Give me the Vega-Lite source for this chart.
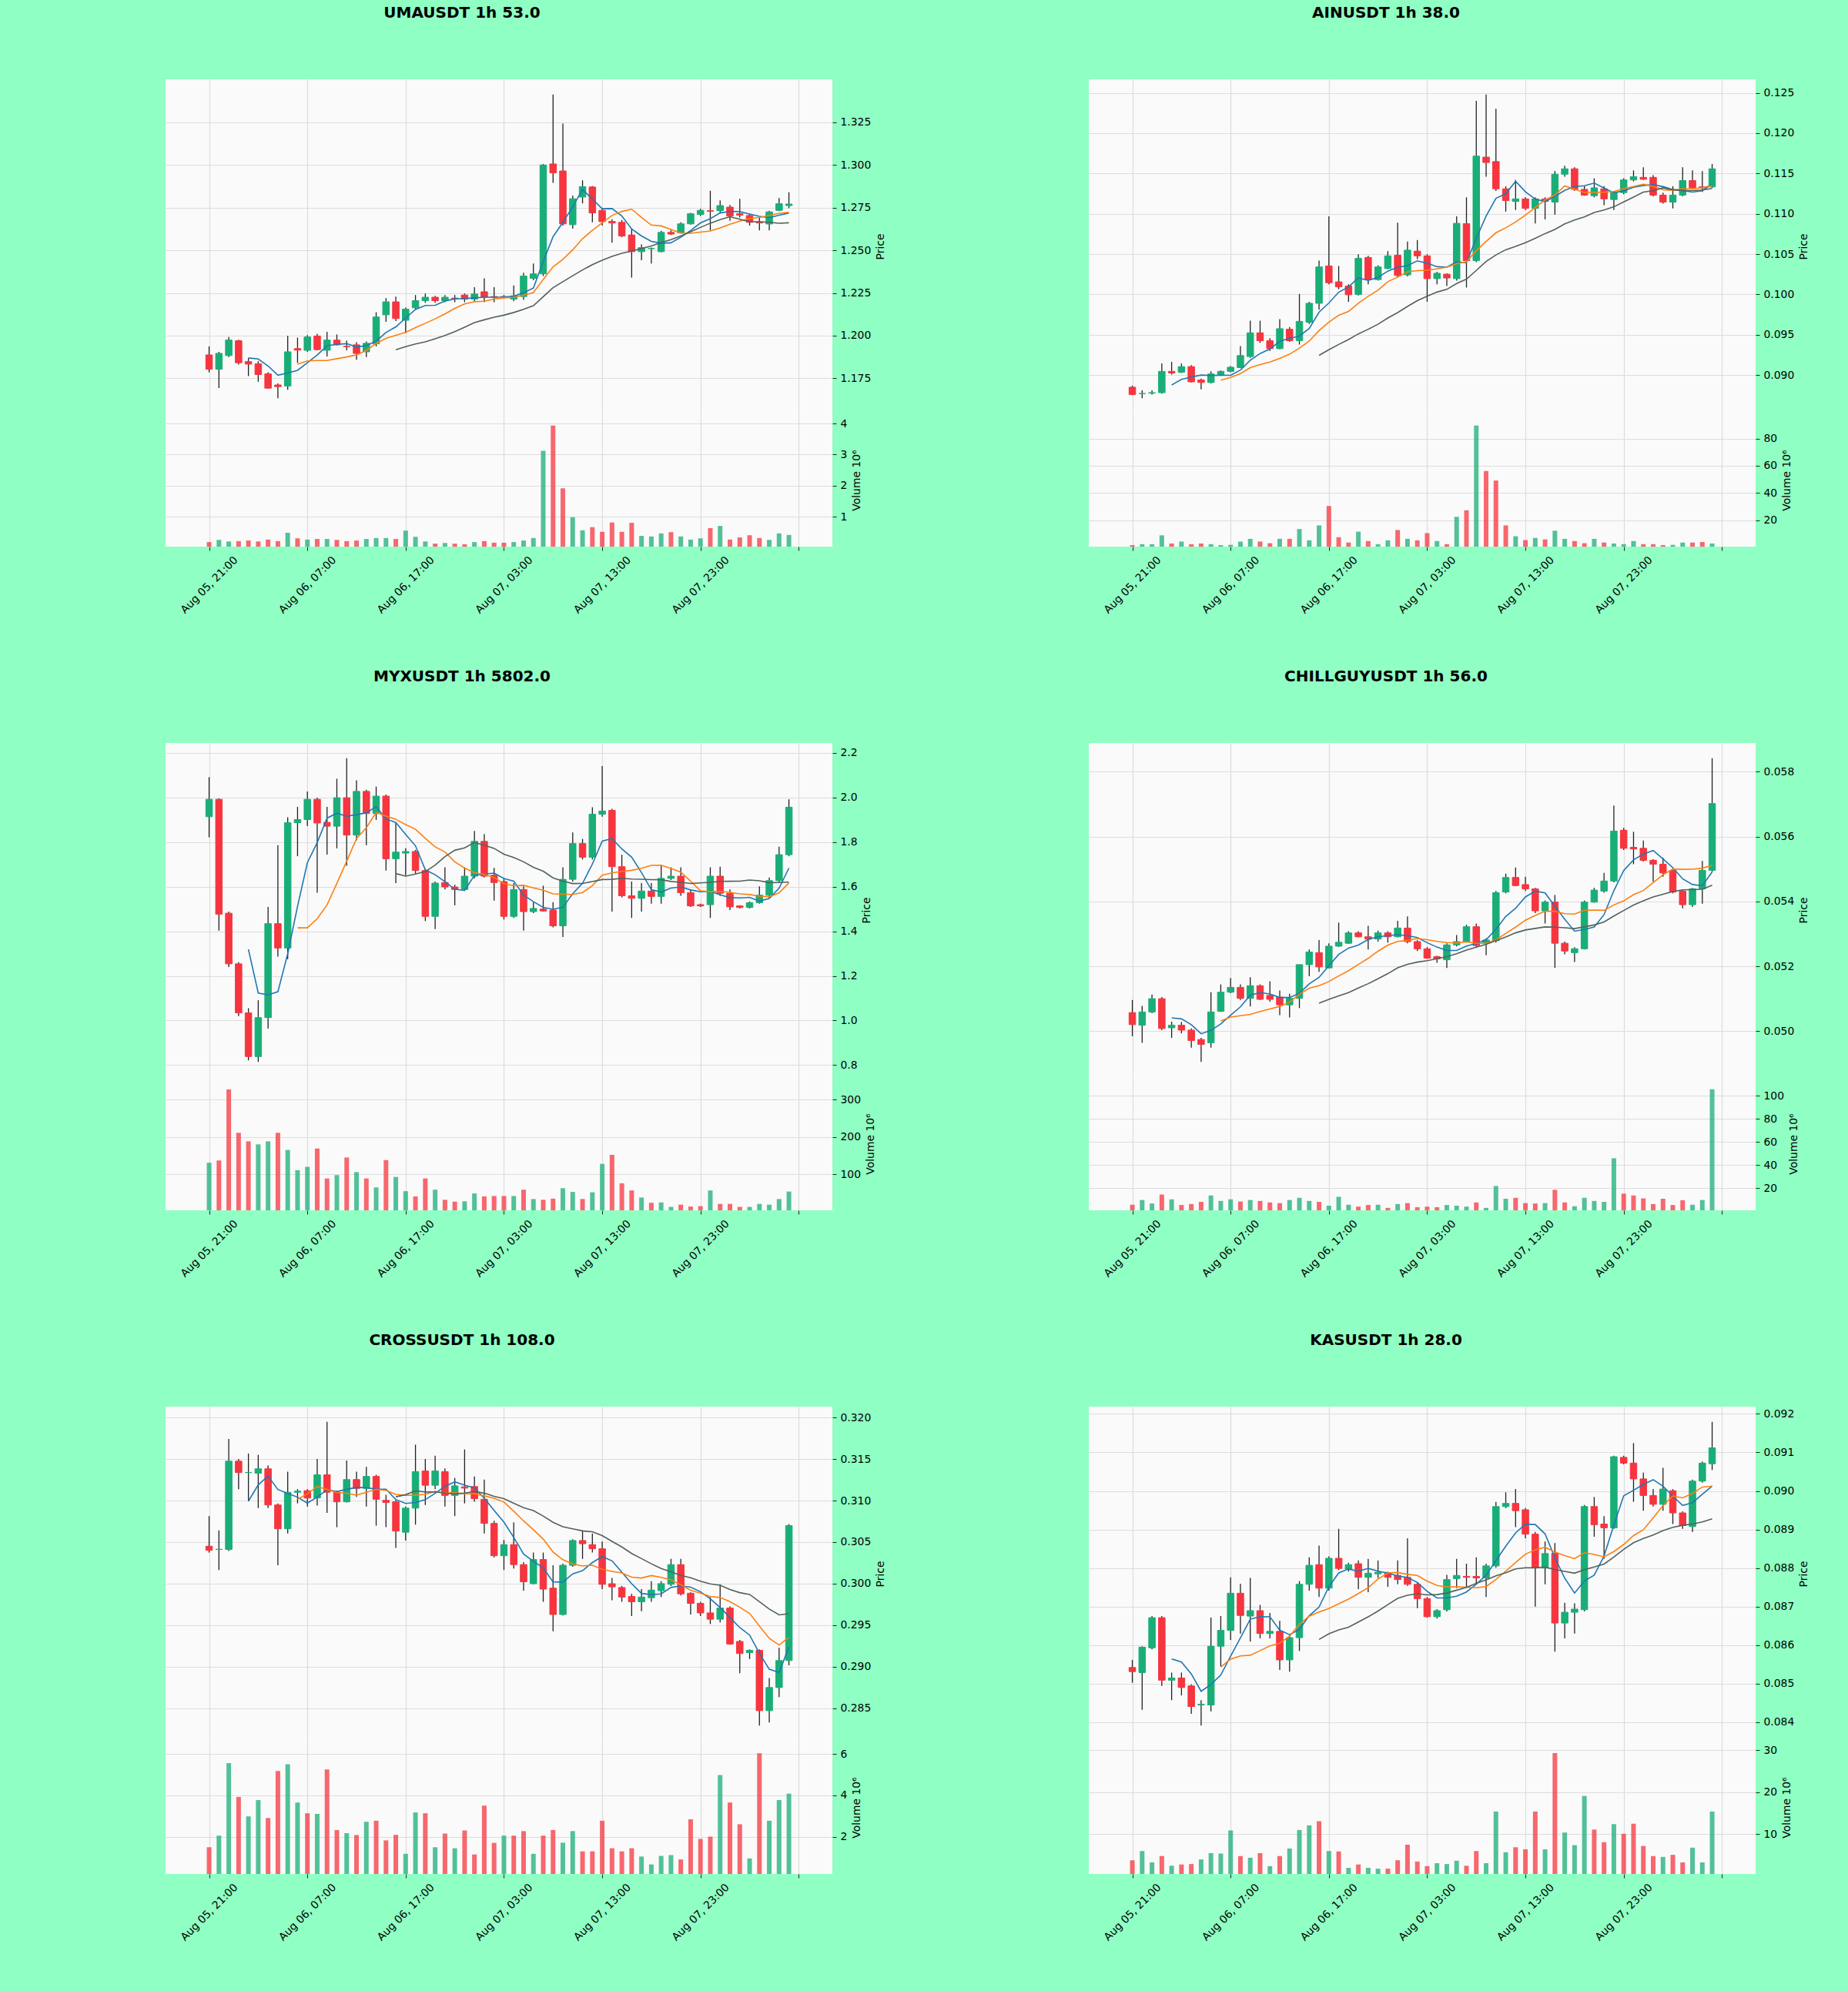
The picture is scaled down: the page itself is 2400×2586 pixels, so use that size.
{
  "$schema": "https://vega.github.io/schema/vega-lite/v6.json",
  "background": "#8fffc3",
  "padding": {"left": 215, "top": 7, "right": 80, "bottom": 90},
  "config": {
    "view": {"fill": "#fafafa", "stroke": null},
    "font": "DejaVu Sans",
    "axis": {
      "labelFont": "DejaVu Sans", "labelFontSize": 13.9, "labelColor": "#000000",
      "titleFont": "DejaVu Sans", "titleFontSize": 13.9, "titleFontWeight": "normal", "titleColor": "#000000",
      "gridColor": "#dddddd", "gridWidth": 1.2, "tickColor": "#222222", "tickSize": 5, "domain": false
    },
    "axisRight": {"labelPadding": 5, "titlePadding": 5.6, "titleAngle": 270, "titleBaseline": "top"}
  },
  "datasets": {
    "uma": [
      {"i":0,"o":1.1887,"h":1.1937,"l":1.1785,"c":1.1803,"v":0.18},
      {"i":1,"o":1.1803,"h":1.1905,"l":1.1693,"c":1.1896,"v":0.25},
      {"i":2,"o":1.1883,"h":1.1992,"l":1.1874,"c":1.1974,"v":0.20},
      {"i":3,"o":1.1970,"h":1.1976,"l":1.1831,"c":1.1841,"v":0.21},
      {"i":4,"o":1.1848,"h":1.1868,"l":1.1763,"c":1.1833,"v":0.23},
      {"i":5,"o":1.1835,"h":1.1850,"l":1.1730,"c":1.1772,"v":0.20},
      {"i":6,"o":1.1776,"h":1.1785,"l":1.1689,"c":1.1692,"v":0.26},
      {"i":7,"o":1.1711,"h":1.1720,"l":1.1633,"c":1.1701,"v":0.21},
      {"i":8,"o":1.1705,"h":1.1998,"l":1.1683,"c":1.1905,"v":0.48},
      {"i":9,"o":1.1924,"h":1.1988,"l":1.1840,"c":1.1915,"v":0.30},
      {"i":10,"o":1.1914,"h":1.2003,"l":1.1905,"c":1.1992,"v":0.26},
      {"i":11,"o":1.1998,"h":1.2011,"l":1.1914,"c":1.1918,"v":0.28},
      {"i":12,"o":1.1914,"h":1.2022,"l":1.1878,"c":1.1974,"v":0.28},
      {"i":13,"o":1.1974,"h":1.2007,"l":1.1942,"c":1.1946,"v":0.25},
      {"i":14,"o":1.1937,"h":1.1970,"l":1.1914,"c":1.1935,"v":0.21},
      {"i":15,"o":1.1946,"h":1.1961,"l":1.1859,"c":1.1896,"v":0.23},
      {"i":16,"o":1.1905,"h":1.1966,"l":1.1874,"c":1.1955,"v":0.28},
      {"i":17,"o":1.1952,"h":1.2137,"l":1.1937,"c":1.2109,"v":0.31},
      {"i":18,"o":1.2122,"h":1.2220,"l":1.2081,"c":1.2198,"v":0.31},
      {"i":19,"o":1.2198,"h":1.2229,"l":1.2085,"c":1.2100,"v":0.28},
      {"i":20,"o":1.2090,"h":1.2164,"l":1.2016,"c":1.2155,"v":0.55},
      {"i":21,"o":1.2163,"h":1.2238,"l":1.2155,"c":1.2205,"v":0.35},
      {"i":22,"o":1.2205,"h":1.2247,"l":1.2192,"c":1.2225,"v":0.20},
      {"i":23,"o":1.2225,"h":1.2233,"l":1.2192,"c":1.2205,"v":0.13},
      {"i":24,"o":1.2205,"h":1.2238,"l":1.2196,"c":1.2225,"v":0.15},
      {"i":25,"o":1.2220,"h":1.2238,"l":1.2196,"c":1.2218,"v":0.13},
      {"i":26,"o":1.2238,"h":1.2247,"l":1.2196,"c":1.2214,"v":0.11},
      {"i":27,"o":1.2214,"h":1.2284,"l":1.2201,"c":1.2244,"v":0.18},
      {"i":28,"o":1.2257,"h":1.2336,"l":1.2196,"c":1.2225,"v":0.21},
      {"i":29,"o":1.2229,"h":1.2284,"l":1.2196,"c":1.2225,"v":0.16},
      {"i":30,"o":1.2229,"h":1.2238,"l":1.2216,"c":1.2225,"v":0.16},
      {"i":31,"o":1.2214,"h":1.2294,"l":1.2201,"c":1.2233,"v":0.18},
      {"i":32,"o":1.2229,"h":1.2368,"l":1.2210,"c":1.2349,"v":0.23},
      {"i":33,"o":1.2336,"h":1.2423,"l":1.2325,"c":1.2362,"v":0.31},
      {"i":34,"o":1.2362,"h":1.3006,"l":1.2349,"c":1.3000,"v":3.12},
      {"i":35,"o":1.3006,"h":1.3413,"l":1.2895,"c":1.2954,"v":3.93},
      {"i":36,"o":1.2965,"h":1.3243,"l":1.2645,"c":1.2655,"v":1.91},
      {"i":37,"o":1.2650,"h":1.2821,"l":1.2627,"c":1.2802,"v":0.98},
      {"i":38,"o":1.2812,"h":1.2910,"l":1.2775,"c":1.2873,"v":0.56},
      {"i":39,"o":1.2871,"h":1.2876,"l":1.2664,"c":1.2719,"v":0.66},
      {"i":40,"o":1.2734,"h":1.2747,"l":1.2645,"c":1.2668,"v":0.51},
      {"i":41,"o":1.2669,"h":1.2682,"l":1.2544,"c":1.2660,"v":0.81},
      {"i":42,"o":1.2664,"h":1.2677,"l":1.2577,"c":1.2584,"v":0.51},
      {"i":43,"o":1.2590,"h":1.2627,"l":1.2340,"c":1.2492,"v":0.80},
      {"i":44,"o":1.2492,"h":1.2534,"l":1.2442,"c":1.2516,"v":0.38},
      {"i":45,"o":1.2510,"h":1.2516,"l":1.2423,"c":1.2511,"v":0.36},
      {"i":46,"o":1.2492,"h":1.2614,"l":1.2488,"c":1.2605,"v":0.46},
      {"i":47,"o":1.2605,"h":1.2617,"l":1.2590,"c":1.2595,"v":0.50},
      {"i":48,"o":1.2603,"h":1.2664,"l":1.2599,"c":1.2655,"v":0.36},
      {"i":49,"o":1.2655,"h":1.2719,"l":1.2651,"c":1.2714,"v":0.26},
      {"i":50,"o":1.2710,"h":1.2743,"l":1.2701,"c":1.2734,"v":0.30},
      {"i":51,"o":1.2732,"h":1.2849,"l":1.2617,"c":1.2729,"v":0.63},
      {"i":52,"o":1.2732,"h":1.2793,"l":1.2719,"c":1.2762,"v":0.70},
      {"i":53,"o":1.2753,"h":1.2766,"l":1.2673,"c":1.2701,"v":0.26},
      {"i":54,"o":1.2714,"h":1.2802,"l":1.2692,"c":1.2706,"v":0.33},
      {"i":55,"o":1.2704,"h":1.2714,"l":1.2645,"c":1.2664,"v":0.40},
      {"i":56,"o":1.2666,"h":1.2691,"l":1.2617,"c":1.2660,"v":0.31},
      {"i":57,"o":1.2654,"h":1.2732,"l":1.2617,"c":1.2725,"v":0.25},
      {"i":58,"o":1.2734,"h":1.2806,"l":1.2729,"c":1.2773,"v":0.46},
      {"i":59,"o":1.2762,"h":1.2840,"l":1.2747,"c":1.2771,"v":0.41}
    ],
    "ain": [
      {"i":0,"o":0.08849,"h":0.08869,"l":0.08751,"c":0.08759,"v":1.6},
      {"i":1,"o":0.08770,"h":0.08810,"l":0.08712,"c":0.08771,"v":2.3},
      {"i":2,"o":0.08775,"h":0.08810,"l":0.08759,"c":0.08782,"v":2.3},
      {"i":3,"o":0.08782,"h":0.09144,"l":0.08771,"c":0.09046,"v":8.8},
      {"i":4,"o":0.09046,"h":0.09164,"l":0.09006,"c":0.09026,"v":2.8},
      {"i":5,"o":0.09034,"h":0.09144,"l":0.09026,"c":0.09105,"v":4.2},
      {"i":6,"o":0.09105,"h":0.09124,"l":0.08908,"c":0.08916,"v":2.3},
      {"i":7,"o":0.08940,"h":0.08955,"l":0.08822,"c":0.08908,"v":2.8},
      {"i":8,"o":0.08908,"h":0.09046,"l":0.08896,"c":0.09014,"v":2.3},
      {"i":9,"o":0.09006,"h":0.09057,"l":0.08994,"c":0.09046,"v":1.6},
      {"i":10,"o":0.09046,"h":0.09112,"l":0.09034,"c":0.09097,"v":1.8},
      {"i":11,"o":0.09093,"h":0.09360,"l":0.09085,"c":0.09242,"v":4.2},
      {"i":12,"o":0.09230,"h":0.09674,"l":0.09214,"c":0.09524,"v":6.2},
      {"i":13,"o":0.09524,"h":0.09674,"l":0.09399,"c":0.09426,"v":4.2},
      {"i":14,"o":0.09426,"h":0.09458,"l":0.09301,"c":0.09328,"v":3.0},
      {"i":15,"o":0.09328,"h":0.09693,"l":0.09320,"c":0.09575,"v":6.2},
      {"i":16,"o":0.09568,"h":0.09595,"l":0.09411,"c":0.09426,"v":6.2},
      {"i":17,"o":0.09426,"h":0.10007,"l":0.09379,"c":0.09666,"v":13.4},
      {"i":18,"o":0.09654,"h":0.09909,"l":0.09634,"c":0.09890,"v":5.1},
      {"i":19,"o":0.09890,"h":0.10419,"l":0.09811,"c":0.10341,"v":16.1},
      {"i":20,"o":0.10353,"h":0.10969,"l":0.10125,"c":0.10145,"v":30.4},
      {"i":21,"o":0.10156,"h":0.10353,"l":0.10066,"c":0.10094,"v":7.4},
      {"i":22,"o":0.10105,"h":0.10125,"l":0.09909,"c":0.09996,"v":3.5},
      {"i":23,"o":0.10000,"h":0.10498,"l":0.09988,"c":0.10447,"v":11.5},
      {"i":24,"o":0.10459,"h":0.10478,"l":0.10125,"c":0.10184,"v":4.6},
      {"i":25,"o":0.10184,"h":0.10361,"l":0.10172,"c":0.10341,"v":2.3},
      {"i":26,"o":0.10321,"h":0.10537,"l":0.10313,"c":0.10478,"v":5.1},
      {"i":27,"o":0.10486,"h":0.10890,"l":0.10211,"c":0.10235,"v":12.7},
      {"i":28,"o":0.10243,"h":0.10655,"l":0.10223,"c":0.10549,"v":6.2},
      {"i":29,"o":0.10537,"h":0.10675,"l":0.10439,"c":0.10478,"v":5.1},
      {"i":30,"o":0.10478,"h":0.10498,"l":0.09909,"c":0.10196,"v":10.4},
      {"i":31,"o":0.10196,"h":0.10282,"l":0.10125,"c":0.10262,"v":4.6},
      {"i":32,"o":0.10251,"h":0.10262,"l":0.10105,"c":0.10204,"v":2.3},
      {"i":33,"o":0.10196,"h":0.10969,"l":0.10172,"c":0.10882,"v":22.4},
      {"i":34,"o":0.10878,"h":0.11204,"l":0.10086,"c":0.10419,"v":27.2},
      {"i":35,"o":0.10419,"h":0.12401,"l":0.10400,"c":0.11715,"v":89.5},
      {"i":36,"o":0.11703,"h":0.12480,"l":0.11460,"c":0.11636,"v":56.1},
      {"i":37,"o":0.11648,"h":0.12303,"l":0.11283,"c":0.11310,"v":49.1},
      {"i":38,"o":0.11310,"h":0.11342,"l":0.11028,"c":0.11165,"v":16.1},
      {"i":39,"o":0.11153,"h":0.11420,"l":0.11047,"c":0.11185,"v":8.1},
      {"i":40,"o":0.11185,"h":0.11204,"l":0.11047,"c":0.11067,"v":5.3},
      {"i":41,"o":0.11067,"h":0.11204,"l":0.10879,"c":0.11185,"v":6.9},
      {"i":42,"o":0.11185,"h":0.11204,"l":0.10930,"c":0.11153,"v":5.8},
      {"i":43,"o":0.11145,"h":0.11530,"l":0.10989,"c":0.11491,"v":12.2},
      {"i":44,"o":0.11491,"h":0.11597,"l":0.11460,"c":0.11558,"v":6.2},
      {"i":45,"o":0.11558,"h":0.11577,"l":0.11283,"c":0.11303,"v":4.6},
      {"i":46,"o":0.11303,"h":0.11342,"l":0.11224,"c":0.11232,"v":3.0},
      {"i":47,"o":0.11224,"h":0.11440,"l":0.11204,"c":0.11322,"v":6.2},
      {"i":48,"o":0.11310,"h":0.11342,"l":0.11106,"c":0.11185,"v":3.5},
      {"i":49,"o":0.11177,"h":0.11283,"l":0.11047,"c":0.11263,"v":2.8},
      {"i":50,"o":0.11263,"h":0.11440,"l":0.11244,"c":0.11420,"v":2.3},
      {"i":51,"o":0.11420,"h":0.11538,"l":0.11401,"c":0.11460,"v":4.6},
      {"i":52,"o":0.11452,"h":0.11577,"l":0.11420,"c":0.11428,"v":2.3},
      {"i":53,"o":0.11452,"h":0.11479,"l":0.11216,"c":0.11232,"v":2.3},
      {"i":54,"o":0.11232,"h":0.11263,"l":0.11126,"c":0.11145,"v":1.6},
      {"i":55,"o":0.11145,"h":0.11342,"l":0.11067,"c":0.11232,"v":1.8},
      {"i":56,"o":0.11232,"h":0.11577,"l":0.11216,"c":0.11412,"v":3.5},
      {"i":57,"o":0.11412,"h":0.11538,"l":0.11303,"c":0.11322,"v":3.5},
      {"i":58,"o":0.11334,"h":0.11530,"l":0.11271,"c":0.11322,"v":3.9},
      {"i":59,"o":0.11334,"h":0.11617,"l":0.11322,"c":0.11558,"v":2.8}
    ],
    "myx": [
      {"i":0,"o":1.9135,"h":2.0908,"l":1.8213,"c":1.9915,"v":131},
      {"i":1,"o":1.9915,"h":1.9958,"l":1.4029,"c":1.4767,"v":137},
      {"i":2,"o":1.4809,"h":1.4880,"l":1.2398,"c":1.2540,"v":327},
      {"i":3,"o":1.2540,"h":1.2611,"l":1.0199,"c":1.0341,"v":211},
      {"i":4,"o":1.0341,"h":1.0554,"l":0.8214,"c":0.8384,"v":188},
      {"i":5,"o":0.8384,"h":1.0909,"l":0.8143,"c":1.0128,"v":180},
      {"i":6,"o":1.0128,"h":1.5093,"l":0.9632,"c":1.4341,"v":188},
      {"i":7,"o":1.4341,"h":1.7859,"l":1.2866,"c":1.3249,"v":211},
      {"i":8,"o":1.3249,"h":1.9106,"l":1.2752,"c":1.8864,"v":165},
      {"i":9,"o":1.8864,"h":1.9574,"l":1.7362,"c":1.9006,"v":111},
      {"i":10,"o":1.9006,"h":2.0270,"l":1.8710,"c":1.9915,"v":120},
      {"i":11,"o":1.9915,"h":1.9986,"l":1.5731,"c":1.8852,"v":169},
      {"i":12,"o":1.8880,"h":1.9574,"l":1.7433,"c":1.8710,"v":89},
      {"i":13,"o":1.8710,"h":2.0837,"l":1.7717,"c":1.9986,"v":98},
      {"i":14,"o":1.9986,"h":2.1759,"l":1.6937,"c":1.8313,"v":145},
      {"i":15,"o":1.8313,"h":2.0766,"l":1.8071,"c":2.0270,"v":106},
      {"i":16,"o":2.0270,"h":2.0341,"l":1.7859,"c":1.9277,"v":89},
      {"i":17,"o":1.9277,"h":2.0483,"l":1.8994,"c":2.0057,"v":65},
      {"i":18,"o":2.0057,"h":2.0128,"l":1.6724,"c":1.7249,"v":138},
      {"i":19,"o":1.7249,"h":1.8852,"l":1.6157,"c":1.7547,"v":93},
      {"i":20,"o":1.7504,"h":1.7717,"l":1.6511,"c":1.7575,"v":55},
      {"i":21,"o":1.7575,"h":1.7646,"l":1.6582,"c":1.6724,"v":41},
      {"i":22,"o":1.6724,"h":1.6795,"l":1.4455,"c":1.4667,"v":89},
      {"i":23,"o":1.4667,"h":1.6228,"l":1.4100,"c":1.6157,"v":59},
      {"i":24,"o":1.6185,"h":1.6866,"l":1.5873,"c":1.5986,"v":32},
      {"i":25,"o":1.5986,"h":1.6086,"l":1.5164,"c":1.5873,"v":27},
      {"i":26,"o":1.5873,"h":1.6866,"l":1.5802,"c":1.6469,"v":28},
      {"i":27,"o":1.6469,"h":1.8497,"l":1.6370,"c":1.8029,"v":49},
      {"i":28,"o":1.8029,"h":1.8355,"l":1.6412,"c":1.6469,"v":41},
      {"i":29,"o":1.6511,"h":1.6837,"l":1.5376,"c":1.6185,"v":42},
      {"i":30,"o":1.6228,"h":1.6370,"l":1.4526,"c":1.4667,"v":42},
      {"i":31,"o":1.4667,"h":1.6157,"l":1.4597,"c":1.5873,"v":42},
      {"i":32,"o":1.5873,"h":1.6015,"l":1.4029,"c":1.4880,"v":59},
      {"i":33,"o":1.4880,"h":1.5306,"l":1.4809,"c":1.5022,"v":34},
      {"i":34,"o":1.4994,"h":1.6043,"l":1.4880,"c":1.4909,"v":32},
      {"i":35,"o":1.4951,"h":1.5306,"l":1.4171,"c":1.4242,"v":35},
      {"i":36,"o":1.4242,"h":1.6866,"l":1.3745,"c":1.6327,"v":63},
      {"i":37,"o":1.6327,"h":1.8426,"l":1.6228,"c":1.7930,"v":53},
      {"i":38,"o":1.7930,"h":1.8142,"l":1.7220,"c":1.7320,"v":34},
      {"i":39,"o":1.7320,"h":1.9560,"l":1.7220,"c":1.9248,"v":52},
      {"i":40,"o":1.9248,"h":2.1405,"l":1.9135,"c":1.9390,"v":128},
      {"i":41,"o":1.9418,"h":1.9490,"l":1.4880,"c":1.6894,"v":152},
      {"i":42,"o":1.6894,"h":1.7433,"l":1.5518,"c":1.5589,"v":76},
      {"i":43,"o":1.5589,"h":1.6228,"l":1.4597,"c":1.5476,"v":57},
      {"i":44,"o":1.5476,"h":1.6157,"l":1.4880,"c":1.5802,"v":38},
      {"i":45,"o":1.5802,"h":1.6157,"l":1.5235,"c":1.5561,"v":24},
      {"i":46,"o":1.5561,"h":1.6937,"l":1.5235,"c":1.6370,"v":25},
      {"i":47,"o":1.6370,"h":1.6866,"l":1.6299,"c":1.6469,"v":13},
      {"i":48,"o":1.6469,"h":1.6866,"l":1.5589,"c":1.5731,"v":19},
      {"i":49,"o":1.5731,"h":1.5873,"l":1.5093,"c":1.5136,"v":14},
      {"i":50,"o":1.5192,"h":1.5235,"l":1.5093,"c":1.5136,"v":15},
      {"i":51,"o":1.5192,"h":1.6866,"l":1.4597,"c":1.6469,"v":57},
      {"i":52,"o":1.6469,"h":1.6894,"l":1.5589,"c":1.5703,"v":21},
      {"i":53,"o":1.5703,"h":1.5873,"l":1.4951,"c":1.5093,"v":21},
      {"i":54,"o":1.5136,"h":1.5164,"l":1.5022,"c":1.5065,"v":13},
      {"i":55,"o":1.5065,"h":1.5334,"l":1.5022,"c":1.5278,"v":13},
      {"i":56,"o":1.5278,"h":1.6015,"l":1.5235,"c":1.5618,"v":21},
      {"i":57,"o":1.5618,"h":1.6412,"l":1.5476,"c":1.6270,"v":19},
      {"i":58,"o":1.6270,"h":1.7788,"l":1.6157,"c":1.7433,"v":34},
      {"i":59,"o":1.7433,"h":1.9915,"l":1.7362,"c":1.9560,"v":54}
    ],
    "chill": [
      {"i":0,"o":0.05057,"h":0.05096,"l":0.04984,"c":0.05020,"v":5.7},
      {"i":1,"o":0.05018,"h":0.05078,"l":0.04964,"c":0.05059,"v":9.8},
      {"i":2,"o":0.05059,"h":0.05113,"l":0.05055,"c":0.05100,"v":6.8},
      {"i":3,"o":0.05100,"h":0.05105,"l":0.05003,"c":0.05008,"v":14.5},
      {"i":4,"o":0.05010,"h":0.05029,"l":0.04979,"c":0.05018,"v":10.4},
      {"i":5,"o":0.05018,"h":0.05028,"l":0.04993,"c":0.05003,"v":5.5},
      {"i":6,"o":0.05003,"h":0.05008,"l":0.04949,"c":0.04971,"v":6.3},
      {"i":7,"o":0.04974,"h":0.04979,"l":0.04905,"c":0.04959,"v":8.2},
      {"i":8,"o":0.04964,"h":0.05120,"l":0.04949,"c":0.05059,"v":13.7},
      {"i":9,"o":0.05061,"h":0.05144,"l":0.05059,"c":0.05120,"v":9.0},
      {"i":10,"o":0.05120,"h":0.05164,"l":0.05117,"c":0.05135,"v":10.4},
      {"i":11,"o":0.05135,"h":0.05144,"l":0.05096,"c":0.05101,"v":8.5},
      {"i":12,"o":0.05101,"h":0.05166,"l":0.05076,"c":0.05140,"v":9.8},
      {"i":13,"o":0.05140,"h":0.05144,"l":0.05096,"c":0.05098,"v":9.0},
      {"i":14,"o":0.05110,"h":0.05154,"l":0.05091,"c":0.05098,"v":7.7},
      {"i":15,"o":0.05105,"h":0.05125,"l":0.05049,"c":0.05081,"v":7.1},
      {"i":16,"o":0.05081,"h":0.05115,"l":0.05042,"c":0.05101,"v":9.8},
      {"i":17,"o":0.05101,"h":0.05205,"l":0.05071,"c":0.05205,"v":11.7},
      {"i":18,"o":0.05205,"h":0.05252,"l":0.05169,"c":0.05244,"v":9.0},
      {"i":19,"o":0.05242,"h":0.05281,"l":0.05183,"c":0.05198,"v":8.2},
      {"i":20,"o":0.05195,"h":0.05271,"l":0.05193,"c":0.05262,"v":4.9},
      {"i":21,"o":0.05262,"h":0.05335,"l":0.05260,"c":0.05274,"v":12.6},
      {"i":22,"o":0.05271,"h":0.05308,"l":0.05269,"c":0.05303,"v":5.7},
      {"i":23,"o":0.05303,"h":0.05308,"l":0.05289,"c":0.05291,"v":4.1},
      {"i":24,"o":0.05291,"h":0.05325,"l":0.05252,"c":0.05284,"v":5.5},
      {"i":25,"o":0.05284,"h":0.05310,"l":0.05276,"c":0.05303,"v":5.7},
      {"i":26,"o":0.05303,"h":0.05308,"l":0.05273,"c":0.05291,"v":3.0},
      {"i":27,"o":0.05291,"h":0.05340,"l":0.05289,"c":0.05318,"v":6.3},
      {"i":28,"o":0.05318,"h":0.05354,"l":0.05271,"c":0.05276,"v":7.1},
      {"i":29,"o":0.05276,"h":0.05281,"l":0.05247,"c":0.05254,"v":3.6},
      {"i":30,"o":0.05254,"h":0.05259,"l":0.05223,"c":0.05225,"v":4.1},
      {"i":31,"o":0.05230,"h":0.05232,"l":0.05211,"c":0.05223,"v":3.6},
      {"i":32,"o":0.05220,"h":0.05271,"l":0.05195,"c":0.05266,"v":5.5},
      {"i":33,"o":0.05266,"h":0.05296,"l":0.05261,"c":0.05276,"v":4.9},
      {"i":34,"o":0.05276,"h":0.05328,"l":0.05273,"c":0.05322,"v":4.1},
      {"i":35,"o":0.05322,"h":0.05332,"l":0.05257,"c":0.05264,"v":7.7},
      {"i":36,"o":0.05271,"h":0.05286,"l":0.05234,"c":0.05281,"v":3.0},
      {"i":37,"o":0.05279,"h":0.05432,"l":0.05273,"c":0.05427,"v":21.9},
      {"i":38,"o":0.05429,"h":0.05486,"l":0.05425,"c":0.05474,"v":10.9},
      {"i":39,"o":0.05474,"h":0.05505,"l":0.05447,"c":0.05449,"v":11.7},
      {"i":40,"o":0.05452,"h":0.05476,"l":0.05432,"c":0.05439,"v":7.1},
      {"i":41,"o":0.05439,"h":0.05442,"l":0.05364,"c":0.05371,"v":6.8},
      {"i":42,"o":0.05371,"h":0.05403,"l":0.05332,"c":0.05398,"v":7.1},
      {"i":43,"o":0.05398,"h":0.05420,"l":0.05195,"c":0.05271,"v":18.6},
      {"i":44,"o":0.05271,"h":0.05276,"l":0.05237,"c":0.05247,"v":7.7},
      {"i":45,"o":0.05242,"h":0.05259,"l":0.05213,"c":0.05254,"v":4.4},
      {"i":46,"o":0.05254,"h":0.05403,"l":0.05252,"c":0.05398,"v":11.7},
      {"i":47,"o":0.05398,"h":0.05442,"l":0.05396,"c":0.05435,"v":9.0},
      {"i":48,"o":0.05432,"h":0.05488,"l":0.05427,"c":0.05463,"v":8.2},
      {"i":49,"o":0.05463,"h":0.05696,"l":0.05459,"c":0.05617,"v":45.9},
      {"i":50,"o":0.05620,"h":0.05627,"l":0.05559,"c":0.05564,"v":15.3},
      {"i":51,"o":0.05567,"h":0.05615,"l":0.05515,"c":0.05562,"v":13.7},
      {"i":52,"o":0.05564,"h":0.05588,"l":0.05523,"c":0.05527,"v":11.2},
      {"i":53,"o":0.05527,"h":0.05530,"l":0.05461,"c":0.05515,"v":6.3},
      {"i":54,"o":0.05515,"h":0.05535,"l":0.05476,"c":0.05488,"v":10.9},
      {"i":55,"o":0.05496,"h":0.05500,"l":0.05425,"c":0.05429,"v":5.5},
      {"i":56,"o":0.05432,"h":0.05437,"l":0.05379,"c":0.05390,"v":9.6},
      {"i":57,"o":0.05390,"h":0.05442,"l":0.05383,"c":0.05439,"v":5.7},
      {"i":58,"o":0.05439,"h":0.05525,"l":0.05393,"c":0.05496,"v":9.8},
      {"i":59,"o":0.05496,"h":0.05842,"l":0.05491,"c":0.05702,"v":105.5}
    ],
    "cross": [
      {"i":0,"o":0.30451,"h":0.30814,"l":0.30374,"c":0.30401,"v":1.49},
      {"i":1,"o":0.30412,"h":0.30642,"l":0.30164,"c":0.30414,"v":2.05},
      {"i":2,"o":0.30412,"h":0.31744,"l":0.30393,"c":0.31476,"v":5.55},
      {"i":3,"o":0.31476,"h":0.31503,"l":0.31139,"c":0.31338,"v":3.92},
      {"i":4,"o":0.31338,"h":0.31568,"l":0.30994,"c":0.31340,"v":2.98},
      {"i":5,"o":0.31330,"h":0.31552,"l":0.30910,"c":0.31384,"v":3.77},
      {"i":6,"o":0.31384,"h":0.31426,"l":0.30910,"c":0.30948,"v":2.90},
      {"i":7,"o":0.30948,"h":0.30967,"l":0.30221,"c":0.30661,"v":5.17},
      {"i":8,"o":0.30661,"h":0.31350,"l":0.30604,"c":0.31101,"v":5.50},
      {"i":9,"o":0.31101,"h":0.31139,"l":0.30967,"c":0.31114,"v":3.65},
      {"i":10,"o":0.31120,"h":0.31139,"l":0.30929,"c":0.31032,"v":3.13},
      {"i":11,"o":0.31032,"h":0.31503,"l":0.30940,"c":0.31311,"v":3.10},
      {"i":12,"o":0.31311,"h":0.31950,"l":0.30852,"c":0.31101,"v":5.25},
      {"i":13,"o":0.31101,"h":0.31120,"l":0.30680,"c":0.30986,"v":2.32},
      {"i":14,"o":0.30986,"h":0.31484,"l":0.30978,"c":0.31254,"v":2.17},
      {"i":15,"o":0.31254,"h":0.31350,"l":0.31044,"c":0.31147,"v":2.08},
      {"i":16,"o":0.31147,"h":0.31407,"l":0.30929,"c":0.31292,"v":2.72},
      {"i":17,"o":0.31292,"h":0.31311,"l":0.30699,"c":0.31017,"v":2.77},
      {"i":18,"o":0.31004,"h":0.31070,"l":0.30680,"c":0.30978,"v":1.82},
      {"i":19,"o":0.30986,"h":0.31005,"l":0.30431,"c":0.30634,"v":2.09},
      {"i":20,"o":0.30619,"h":0.30929,"l":0.30519,"c":0.30910,"v":1.17},
      {"i":21,"o":0.30910,"h":0.31675,"l":0.30711,"c":0.31350,"v":3.17},
      {"i":22,"o":0.31357,"h":0.31503,"l":0.30948,"c":0.31185,"v":3.13},
      {"i":23,"o":0.31185,"h":0.31541,"l":0.31139,"c":0.31357,"v":1.49},
      {"i":24,"o":0.31350,"h":0.31388,"l":0.30929,"c":0.31063,"v":2.15},
      {"i":25,"o":0.31063,"h":0.31273,"l":0.30814,"c":0.31178,"v":1.44},
      {"i":26,"o":0.31166,"h":0.31617,"l":0.30967,"c":0.31151,"v":2.30},
      {"i":27,"o":0.31170,"h":0.31292,"l":0.30986,"c":0.31024,"v":1.14},
      {"i":28,"o":0.31017,"h":0.31254,"l":0.30604,"c":0.30726,"v":3.50},
      {"i":29,"o":0.30726,"h":0.30757,"l":0.30317,"c":0.30336,"v":1.70},
      {"i":30,"o":0.30336,"h":0.30527,"l":0.30164,"c":0.30470,"v":2.05},
      {"i":31,"o":0.30470,"h":0.30738,"l":0.30183,"c":0.30229,"v":2.05},
      {"i":32,"o":0.30229,"h":0.30259,"l":0.29915,"c":0.30022,"v":2.27},
      {"i":33,"o":0.30000,"h":0.30374,"l":0.29992,"c":0.30290,"v":1.17},
      {"i":34,"o":0.30290,"h":0.30374,"l":0.29781,"c":0.29934,"v":2.05},
      {"i":35,"o":0.29946,"h":0.30221,"l":0.29425,"c":0.29628,"v":2.32},
      {"i":36,"o":0.29628,"h":0.30240,"l":0.29616,"c":0.30221,"v":1.71},
      {"i":37,"o":0.30221,"h":0.30535,"l":0.30202,"c":0.30519,"v":2.27},
      {"i":38,"o":0.30519,"h":0.30642,"l":0.30298,"c":0.30481,"v":1.29},
      {"i":39,"o":0.30470,"h":0.30604,"l":0.30374,"c":0.30420,"v":1.29},
      {"i":40,"o":0.30420,"h":0.30508,"l":0.29934,"c":0.29991,"v":2.77},
      {"i":41,"o":0.29999,"h":0.30068,"l":0.29800,"c":0.29961,"v":1.44},
      {"i":42,"o":0.29953,"h":0.29972,"l":0.29781,"c":0.29838,"v":1.29},
      {"i":43,"o":0.29846,"h":0.29877,"l":0.29609,"c":0.29781,"v":1.44},
      {"i":44,"o":0.29781,"h":0.29934,"l":0.29666,"c":0.29838,"v":1.04},
      {"i":45,"o":0.29830,"h":0.30030,"l":0.29781,"c":0.29922,"v":0.66},
      {"i":46,"o":0.29915,"h":0.30030,"l":0.29838,"c":0.30000,"v":1.07},
      {"i":47,"o":0.29992,"h":0.30298,"l":0.29972,"c":0.30229,"v":1.11},
      {"i":48,"o":0.30229,"h":0.30298,"l":0.29857,"c":0.29877,"v":0.90},
      {"i":49,"o":0.29884,"h":0.29896,"l":0.29628,"c":0.29762,"v":2.84},
      {"i":50,"o":0.29762,"h":0.29781,"l":0.29609,"c":0.29647,"v":1.89},
      {"i":51,"o":0.29647,"h":0.29838,"l":0.29513,"c":0.29571,"v":2.00},
      {"i":52,"o":0.29571,"h":0.29991,"l":0.29532,"c":0.29705,"v":4.98},
      {"i":53,"o":0.29705,"h":0.29724,"l":0.29264,"c":0.29272,"v":3.65},
      {"i":54,"o":0.29303,"h":0.29322,"l":0.28920,"c":0.29157,"v":2.60},
      {"i":55,"o":0.29169,"h":0.29207,"l":0.29092,"c":0.29196,"v":0.95},
      {"i":56,"o":0.29196,"h":0.29207,"l":0.28289,"c":0.28469,"v":6.03},
      {"i":57,"o":0.28469,"h":0.28863,"l":0.28327,"c":0.28748,"v":2.77},
      {"i":58,"o":0.28748,"h":0.29226,"l":0.28633,"c":0.29073,"v":3.77},
      {"i":59,"o":0.29073,"h":0.30718,"l":0.29016,"c":0.30699,"v":4.08}
    ],
    "kas": [
      {"i":0,"o":0.085419,"h":0.085616,"l":0.085023,"c":0.085312,"v":3.8},
      {"i":1,"o":0.085287,"h":0.085970,"l":0.084323,"c":0.085946,"v":6.0},
      {"i":2,"o":0.085929,"h":0.086753,"l":0.085888,"c":0.086712,"v":3.3},
      {"i":3,"o":0.086712,"h":0.086753,"l":0.084941,"c":0.085089,"v":4.8},
      {"i":4,"o":0.085089,"h":0.085287,"l":0.084570,"c":0.085147,"v":2.5},
      {"i":5,"o":0.085147,"h":0.085287,"l":0.084694,"c":0.084900,"v":2.8},
      {"i":6,"o":0.084941,"h":0.084982,"l":0.084216,"c":0.084406,"v":2.9},
      {"i":7,"o":0.084447,"h":0.084570,"l":0.083911,"c":0.084463,"v":4.0},
      {"i":8,"o":0.084447,"h":0.086712,"l":0.084282,"c":0.085970,"v":5.5},
      {"i":9,"o":0.085970,"h":0.086753,"l":0.085435,"c":0.086382,"v":5.4},
      {"i":10,"o":0.086382,"h":0.087758,"l":0.086135,"c":0.087346,"v":10.9},
      {"i":11,"o":0.087346,"h":0.087593,"l":0.086300,"c":0.086769,"v":4.8},
      {"i":12,"o":0.086753,"h":0.087742,"l":0.086094,"c":0.086893,"v":4.4},
      {"i":13,"o":0.086893,"h":0.087041,"l":0.086176,"c":0.086300,"v":5.5},
      {"i":14,"o":0.086300,"h":0.086835,"l":0.086176,"c":0.086357,"v":2.4},
      {"i":15,"o":0.086357,"h":0.086629,"l":0.085353,"c":0.085616,"v":4.8},
      {"i":16,"o":0.085616,"h":0.086259,"l":0.085312,"c":0.086193,"v":6.6},
      {"i":17,"o":0.086193,"h":0.087660,"l":0.085847,"c":0.087577,"v":11.0},
      {"i":18,"o":0.087577,"h":0.088277,"l":0.087412,"c":0.088071,"v":12.1},
      {"i":19,"o":0.088087,"h":0.088582,"l":0.087247,"c":0.087478,"v":13.1},
      {"i":20,"o":0.087478,"h":0.088302,"l":0.087412,"c":0.088252,"v":6.0},
      {"i":21,"o":0.088252,"h":0.089018,"l":0.087948,"c":0.087989,"v":5.9},
      {"i":22,"o":0.087972,"h":0.088137,"l":0.087906,"c":0.088087,"v":2.0},
      {"i":23,"o":0.088112,"h":0.088195,"l":0.087453,"c":0.087758,"v":2.8},
      {"i":24,"o":0.087758,"h":0.088236,"l":0.087371,"c":0.087865,"v":2.0},
      {"i":25,"o":0.087849,"h":0.088195,"l":0.087742,"c":0.087890,"v":1.8},
      {"i":26,"o":0.087882,"h":0.087906,"l":0.087511,"c":0.087758,"v":1.8},
      {"i":27,"o":0.087808,"h":0.088195,"l":0.087577,"c":0.087700,"v":3.8},
      {"i":28,"o":0.087758,"h":0.088771,"l":0.087536,"c":0.087577,"v":7.5},
      {"i":29,"o":0.087577,"h":0.087618,"l":0.086959,"c":0.087206,"v":3.5},
      {"i":30,"o":0.087206,"h":0.087247,"l":0.086712,"c":0.086737,"v":2.4},
      {"i":31,"o":0.086737,"h":0.086934,"l":0.086687,"c":0.086893,"v":3.1},
      {"i":32,"o":0.086918,"h":0.087824,"l":0.086876,"c":0.087700,"v":2.9},
      {"i":33,"o":0.087725,"h":0.088236,"l":0.087478,"c":0.087808,"v":3.7},
      {"i":34,"o":0.087783,"h":0.088112,"l":0.087494,"c":0.087758,"v":2.5},
      {"i":35,"o":0.087783,"h":0.088277,"l":0.087577,"c":0.087742,"v":6.0},
      {"i":36,"o":0.087742,"h":0.088112,"l":0.087247,"c":0.088055,"v":3.1},
      {"i":37,"o":0.088055,"h":0.089718,"l":0.088005,"c":0.089595,"v":15.4},
      {"i":38,"o":0.089595,"h":0.089965,"l":0.089554,"c":0.089677,"v":5.7},
      {"i":39,"o":0.089677,"h":0.090048,"l":0.089060,"c":0.089488,"v":6.9},
      {"i":40,"o":0.089512,"h":0.089554,"l":0.088771,"c":0.088879,"v":6.4},
      {"i":41,"o":0.088879,"h":0.088936,"l":0.087000,"c":0.088005,"v":15.4},
      {"i":42,"o":0.088005,"h":0.088689,"l":0.087577,"c":0.088376,"v":6.4},
      {"i":43,"o":0.088376,"h":0.088648,"l":0.085830,"c":0.086572,"v":29.3},
      {"i":44,"o":0.086572,"h":0.087099,"l":0.086176,"c":0.086852,"v":10.4},
      {"i":45,"o":0.086852,"h":0.087083,"l":0.086300,"c":0.086934,"v":7.4},
      {"i":46,"o":0.086918,"h":0.089636,"l":0.086877,"c":0.089595,"v":19.1},
      {"i":47,"o":0.089595,"h":0.089842,"l":0.088812,"c":0.089125,"v":11.1},
      {"i":48,"o":0.089142,"h":0.089348,"l":0.088236,"c":0.089043,"v":8.1},
      {"i":49,"o":0.089043,"h":0.090913,"l":0.089018,"c":0.090888,"v":12.4},
      {"i":50,"o":0.090871,"h":0.090913,"l":0.090690,"c":0.090723,"v":10.1},
      {"i":51,"o":0.090723,"h":0.091242,"l":0.089718,"c":0.090312,"v":12.5},
      {"i":52,"o":0.090312,"h":0.090476,"l":0.089488,"c":0.089883,"v":7.2},
      {"i":53,"o":0.089883,"h":0.090048,"l":0.089595,"c":0.089653,"v":4.8},
      {"i":54,"o":0.089653,"h":0.090600,"l":0.089488,"c":0.090048,"v":4.6},
      {"i":55,"o":0.090007,"h":0.090048,"l":0.089142,"c":0.089430,"v":5.1},
      {"i":56,"o":0.089430,"h":0.089472,"l":0.089018,"c":0.089101,"v":3.3},
      {"i":57,"o":0.089076,"h":0.090295,"l":0.088936,"c":0.090254,"v":6.8},
      {"i":58,"o":0.090254,"h":0.090765,"l":0.090213,"c":0.090723,"v":3.3},
      {"i":59,"o":0.090706,"h":0.091794,"l":0.090542,"c":0.091119,"v":15.4}
    ]
  },
  "columns": 2,
  "spacing": {"row": 0, "column": 333},
  "bounds": "flush",
  "concat": [
    {"width": 866, "height": 434, "data": {"name": "uma"},
     "title": {"text": "UMAUSDT 1h 53.0", "font": "DejaVu Sans", "fontSize": 20, "fontWeight": "bold", "color": "#000000", "anchor": "middle", "frame": "group", "dx": -48, "offset": 60, "baseline": "alphabetic"},
     "encoding": {"x": {"field": "i", "type": "quantitative", "scale": {"domain": [-4.04, 63.03], "nice": false, "zero": false}, "axis": {"values": [0,10,20,30,40,50,60], "labels": false, "ticks": false, "title": null, "grid": true}}},
     "layer": [
      {"mark": {"type": "rule", "color": "#222222", "strokeWidth": 1.3}, "encoding": {"y": {"field": "l", "type": "quantitative", "title": "Price", "scale": {"domain": [1.1544, 1.3502], "nice": false, "zero": false}, "axis": {"orient": "right", "values": [1.175,1.2,1.225,1.25,1.275,1.3,1.325], "format": ".3f", "grid": true}}, "y2": {"field": "h"}}},
      {"mark": {"type": "bar", "size": 8.5, "strokeWidth": 1}, "encoding": {"y": {"field": "o", "type": "quantitative", "title": "Price"}, "y2": {"field": "c"}, "color": {"condition": {"test": "datum.c >= datum.o", "value": "#19ae77"}, "value": "#f6353f"}, "stroke": {"condition": {"test": "datum.c >= datum.o", "value": "#19ae77"}, "value": "#f6353f"}}},
      {"transform": [{"window": [{"op": "mean", "field": "c", "as": "ma"}], "frame": [-4, 0], "sort": [{"field": "i"}]}, {"filter": "datum.i >= 4"}], "mark": {"type": "line", "color": "#1f77b4", "strokeWidth": 1.6}, "encoding": {"y": {"field": "ma", "type": "quantitative", "title": "Price"}}},
      {"transform": [{"window": [{"op": "mean", "field": "c", "as": "ma"}], "frame": [-9, 0], "sort": [{"field": "i"}]}, {"filter": "datum.i >= 9"}], "mark": {"type": "line", "color": "#ff7f0e", "strokeWidth": 1.6}, "encoding": {"y": {"field": "ma", "type": "quantitative", "title": "Price"}}},
      {"transform": [{"window": [{"op": "mean", "field": "c", "as": "ma"}], "frame": [-19, 0], "sort": [{"field": "i"}]}, {"filter": "datum.i >= 19"}], "mark": {"type": "line", "color": "#52625b", "strokeWidth": 1.6}, "encoding": {"y": {"field": "ma", "type": "quantitative", "title": "Price"}}}
     ]},
    {"width": 866, "height": 434, "data": {"name": "ain"},
     "title": {"text": "AINUSDT 1h 38.0", "font": "DejaVu Sans", "fontSize": 20, "fontWeight": "bold", "color": "#000000", "anchor": "middle", "frame": "group", "dx": -47, "offset": 60, "baseline": "alphabetic"},
     "encoding": {"x": {"field": "i", "type": "quantitative", "scale": {"domain": [-4.04, 63.03], "nice": false, "zero": false}, "axis": {"values": [0,10,20,30,40,50,60], "labels": false, "ticks": false, "title": null, "grid": true}}},
     "layer": [
      {"mark": {"type": "rule", "color": "#222222", "strokeWidth": 1.3}, "encoding": {"y": {"field": "l", "type": "quantitative", "title": "Price", "scale": {"domain": [0.08524, 0.12668], "nice": false, "zero": false}, "axis": {"orient": "right", "values": [0.09,0.095,0.1,0.105,0.11,0.115,0.12,0.125], "format": ".3f", "grid": true}}, "y2": {"field": "h"}}},
      {"mark": {"type": "bar", "size": 8.5, "strokeWidth": 1}, "encoding": {"y": {"field": "o", "type": "quantitative", "title": "Price"}, "y2": {"field": "c"}, "color": {"condition": {"test": "datum.c >= datum.o", "value": "#19ae77"}, "value": "#f6353f"}, "stroke": {"condition": {"test": "datum.c >= datum.o", "value": "#19ae77"}, "value": "#f6353f"}}},
      {"transform": [{"window": [{"op": "mean", "field": "c", "as": "ma"}], "frame": [-4, 0], "sort": [{"field": "i"}]}, {"filter": "datum.i >= 4"}], "mark": {"type": "line", "color": "#1f77b4", "strokeWidth": 1.6}, "encoding": {"y": {"field": "ma", "type": "quantitative", "title": "Price"}}},
      {"transform": [{"window": [{"op": "mean", "field": "c", "as": "ma"}], "frame": [-9, 0], "sort": [{"field": "i"}]}, {"filter": "datum.i >= 9"}], "mark": {"type": "line", "color": "#ff7f0e", "strokeWidth": 1.6}, "encoding": {"y": {"field": "ma", "type": "quantitative", "title": "Price"}}},
      {"transform": [{"window": [{"op": "mean", "field": "c", "as": "ma"}], "frame": [-19, 0], "sort": [{"field": "i"}]}, {"filter": "datum.i >= 19"}], "mark": {"type": "line", "color": "#52625b", "strokeWidth": 1.6}, "encoding": {"y": {"field": "ma", "type": "quantitative", "title": "Price"}}}
     ]},
    {"width": 866, "height": 173, "data": {"name": "uma"},
     "mark": {"type": "bar", "size": 6, "opacity": 0.75, "clip": true},
     "encoding": {
      "x": {"field": "i", "type": "quantitative", "scale": {"domain": [-4.04, 63.03], "nice": false, "zero": false}, "axis": {"values": [0,10,20,30,40,50,60], "labelExpr": "['Aug 05, 21:00','Aug 06, 07:00','Aug 06, 17:00','Aug 07, 03:00','Aug 07, 13:00','Aug 07, 23:00',''][round(datum.value/10)]", "labelAngle": -45, "labelAlign": "center", "labelBaseline": "middle", "labelPadding": 44.5, "labelFlush": false, "labelOverlap": false, "labelBound": false, "title": null, "grid": true}},
      "y": {"field": "v", "type": "quantitative", "title": "Volume  10⁶", "scale": {"domain": [0.033, 4.323], "nice": false, "zero": false}, "axis": {"orient": "right", "values": [1,2,3,4], "format": "d", "grid": true}},
      "y2": {"datum": 0},
      "color": {"condition": {"test": "datum.c >= datum.o", "value": "#19ae77"}, "value": "#f6353f"}
     }},
    {"width": 866, "height": 173, "data": {"name": "ain"},
     "mark": {"type": "bar", "size": 6, "opacity": 0.75, "clip": true},
     "encoding": {
      "x": {"field": "i", "type": "quantitative", "scale": {"domain": [-4.04, 63.03], "nice": false, "zero": false}, "axis": {"values": [0,10,20,30,40,50,60], "labelExpr": "['Aug 05, 21:00','Aug 06, 07:00','Aug 06, 17:00','Aug 07, 03:00','Aug 07, 13:00','Aug 07, 23:00',''][round(datum.value/10)]", "labelAngle": -45, "labelAlign": "center", "labelBaseline": "middle", "labelPadding": 44.5, "labelFlush": false, "labelOverlap": false, "labelBound": false, "title": null, "grid": true}},
      "y": {"field": "v", "type": "quantitative", "title": "Volume  10⁶", "scale": {"domain": [0.48, 98.45], "nice": false, "zero": false}, "axis": {"orient": "right", "values": [20,40,60,80], "format": "d", "grid": true}},
      "y2": {"datum": 0},
      "color": {"condition": {"test": "datum.c >= datum.o", "value": "#19ae77"}, "value": "#f6353f"}
     }},
    {"width": 866, "height": 255, "data": {"values": []}, "mark": {"type": "point", "opacity": 0}, "view": {"fill": null, "stroke": null}},
    {"width": 866, "height": 255, "data": {"values": []}, "mark": {"type": "point", "opacity": 0}, "view": {"fill": null, "stroke": null}},
    {"width": 866, "height": 434, "data": {"name": "myx"},
     "title": {"text": "MYXUSDT 1h 5802.0", "font": "DejaVu Sans", "fontSize": 20, "fontWeight": "bold", "color": "#000000", "anchor": "middle", "frame": "group", "dx": -48, "offset": 60, "baseline": "alphabetic"},
     "encoding": {"x": {"field": "i", "type": "quantitative", "scale": {"domain": [-4.04, 63.03], "nice": false, "zero": false}, "axis": {"values": [0,10,20,30,40,50,60], "labels": false, "ticks": false, "title": null, "grid": true}}},
     "layer": [
      {"mark": {"type": "rule", "color": "#222222", "strokeWidth": 1.3}, "encoding": {"y": {"field": "l", "type": "quantitative", "title": "Price", "scale": {"domain": [0.7462, 2.2440], "nice": false, "zero": false}, "axis": {"orient": "right", "values": [0.8,1.0,1.2,1.4,1.6,1.8,2.0,2.2], "format": ".1f", "grid": true}}, "y2": {"field": "h"}}},
      {"mark": {"type": "bar", "size": 8.5, "strokeWidth": 1}, "encoding": {"y": {"field": "o", "type": "quantitative", "title": "Price"}, "y2": {"field": "c"}, "color": {"condition": {"test": "datum.c >= datum.o", "value": "#19ae77"}, "value": "#f6353f"}, "stroke": {"condition": {"test": "datum.c >= datum.o", "value": "#19ae77"}, "value": "#f6353f"}}},
      {"transform": [{"window": [{"op": "mean", "field": "c", "as": "ma"}], "frame": [-4, 0], "sort": [{"field": "i"}]}, {"filter": "datum.i >= 4"}], "mark": {"type": "line", "color": "#1f77b4", "strokeWidth": 1.6}, "encoding": {"y": {"field": "ma", "type": "quantitative", "title": "Price"}}},
      {"transform": [{"window": [{"op": "mean", "field": "c", "as": "ma"}], "frame": [-9, 0], "sort": [{"field": "i"}]}, {"filter": "datum.i >= 9"}], "mark": {"type": "line", "color": "#ff7f0e", "strokeWidth": 1.6}, "encoding": {"y": {"field": "ma", "type": "quantitative", "title": "Price"}}},
      {"transform": [{"window": [{"op": "mean", "field": "c", "as": "ma"}], "frame": [-19, 0], "sort": [{"field": "i"}]}, {"filter": "datum.i >= 19"}], "mark": {"type": "line", "color": "#52625b", "strokeWidth": 1.6}, "encoding": {"y": {"field": "ma", "type": "quantitative", "title": "Price"}}}
     ]},
    {"width": 866, "height": 434, "data": {"name": "chill"},
     "title": {"text": "CHILLGUYUSDT 1h 56.0", "font": "DejaVu Sans", "fontSize": 20, "fontWeight": "bold", "color": "#000000", "anchor": "middle", "frame": "group", "dx": -47, "offset": 60, "baseline": "alphabetic"},
     "encoding": {"x": {"field": "i", "type": "quantitative", "scale": {"domain": [-4.04, 63.03], "nice": false, "zero": false}, "axis": {"values": [0,10,20,30,40,50,60], "labels": false, "ticks": false, "title": null, "grid": true}}},
     "layer": [
      {"mark": {"type": "rule", "color": "#222222", "strokeWidth": 1.3}, "encoding": {"y": {"field": "l", "type": "quantitative", "title": "Price", "scale": {"domain": [0.04858, 0.05889], "nice": false, "zero": false}, "axis": {"orient": "right", "values": [0.05,0.052,0.054,0.056,0.058], "format": ".3f", "grid": true}}, "y2": {"field": "h"}}},
      {"mark": {"type": "bar", "size": 8.5, "strokeWidth": 1}, "encoding": {"y": {"field": "o", "type": "quantitative", "title": "Price"}, "y2": {"field": "c"}, "color": {"condition": {"test": "datum.c >= datum.o", "value": "#19ae77"}, "value": "#f6353f"}, "stroke": {"condition": {"test": "datum.c >= datum.o", "value": "#19ae77"}, "value": "#f6353f"}}},
      {"transform": [{"window": [{"op": "mean", "field": "c", "as": "ma"}], "frame": [-4, 0], "sort": [{"field": "i"}]}, {"filter": "datum.i >= 4"}], "mark": {"type": "line", "color": "#1f77b4", "strokeWidth": 1.6}, "encoding": {"y": {"field": "ma", "type": "quantitative", "title": "Price"}}},
      {"transform": [{"window": [{"op": "mean", "field": "c", "as": "ma"}], "frame": [-9, 0], "sort": [{"field": "i"}]}, {"filter": "datum.i >= 9"}], "mark": {"type": "line", "color": "#ff7f0e", "strokeWidth": 1.6}, "encoding": {"y": {"field": "ma", "type": "quantitative", "title": "Price"}}},
      {"transform": [{"window": [{"op": "mean", "field": "c", "as": "ma"}], "frame": [-19, 0], "sort": [{"field": "i"}]}, {"filter": "datum.i >= 19"}], "mark": {"type": "line", "color": "#52625b", "strokeWidth": 1.6}, "encoding": {"y": {"field": "ma", "type": "quantitative", "title": "Price"}}}
     ]},
    {"width": 866, "height": 173, "data": {"name": "myx"},
     "mark": {"type": "bar", "size": 6, "opacity": 0.75, "clip": true},
     "encoding": {
      "x": {"field": "i", "type": "quantitative", "scale": {"domain": [-4.04, 63.03], "nice": false, "zero": false}, "axis": {"values": [0,10,20,30,40,50,60], "labelExpr": "['Aug 05, 21:00','Aug 06, 07:00','Aug 06, 17:00','Aug 07, 03:00','Aug 07, 13:00','Aug 07, 23:00',''][round(datum.value/10)]", "labelAngle": -45, "labelAlign": "center", "labelBaseline": "middle", "labelPadding": 44.5, "labelFlush": false, "labelOverlap": false, "labelBound": false, "title": null, "grid": true}},
      "y": {"field": "v", "type": "quantitative", "title": "Volume  10⁶", "scale": {"domain": [3.9, 359.7], "nice": false, "zero": false}, "axis": {"orient": "right", "values": [100,200,300], "format": "d", "grid": true}},
      "y2": {"datum": 0},
      "color": {"condition": {"test": "datum.c >= datum.o", "value": "#19ae77"}, "value": "#f6353f"}
     }},
    {"width": 866, "height": 173, "data": {"name": "chill"},
     "mark": {"type": "bar", "size": 6, "opacity": 0.75, "clip": true},
     "encoding": {
      "x": {"field": "i", "type": "quantitative", "scale": {"domain": [-4.04, 63.03], "nice": false, "zero": false}, "axis": {"values": [0,10,20,30,40,50,60], "labelExpr": "['Aug 05, 21:00','Aug 06, 07:00','Aug 06, 17:00','Aug 07, 03:00','Aug 07, 13:00','Aug 07, 23:00',''][round(datum.value/10)]", "labelAngle": -45, "labelAlign": "center", "labelBaseline": "middle", "labelPadding": 44.5, "labelFlush": false, "labelOverlap": false, "labelBound": false, "title": null, "grid": true}},
      "y": {"field": "v", "type": "quantitative", "title": "Volume  10⁶", "scale": {"domain": [0.9, 116.05], "nice": false, "zero": false}, "axis": {"orient": "right", "values": [20,40,60,80,100], "format": "d", "grid": true}},
      "y2": {"datum": 0},
      "color": {"condition": {"test": "datum.c >= datum.o", "value": "#19ae77"}, "value": "#f6353f"}
     }},
    {"width": 866, "height": 255, "data": {"values": []}, "mark": {"type": "point", "opacity": 0}, "view": {"fill": null, "stroke": null}},
    {"width": 866, "height": 255, "data": {"values": []}, "mark": {"type": "point", "opacity": 0}, "view": {"fill": null, "stroke": null}},
    {"width": 866, "height": 434, "data": {"name": "cross"},
     "title": {"text": "CROSSUSDT 1h 108.0", "font": "DejaVu Sans", "fontSize": 20, "fontWeight": "bold", "color": "#000000", "anchor": "middle", "frame": "group", "dx": -48, "offset": 60, "baseline": "alphabetic"},
     "encoding": {"x": {"field": "i", "type": "quantitative", "scale": {"domain": [-4.04, 63.03], "nice": false, "zero": false}, "axis": {"values": [0,10,20,30,40,50,60], "labels": false, "ticks": false, "title": null, "grid": true}}},
     "layer": [
      {"mark": {"type": "rule", "color": "#222222", "strokeWidth": 1.3}, "encoding": {"y": {"field": "l", "type": "quantitative", "title": "Price", "scale": {"domain": [0.28106, 0.32133], "nice": false, "zero": false}, "axis": {"orient": "right", "values": [0.285,0.29,0.295,0.3,0.305,0.31,0.315,0.32], "format": ".3f", "grid": true}}, "y2": {"field": "h"}}},
      {"mark": {"type": "bar", "size": 8.5, "strokeWidth": 1}, "encoding": {"y": {"field": "o", "type": "quantitative", "title": "Price"}, "y2": {"field": "c"}, "color": {"condition": {"test": "datum.c >= datum.o", "value": "#19ae77"}, "value": "#f6353f"}, "stroke": {"condition": {"test": "datum.c >= datum.o", "value": "#19ae77"}, "value": "#f6353f"}}},
      {"transform": [{"window": [{"op": "mean", "field": "c", "as": "ma"}], "frame": [-4, 0], "sort": [{"field": "i"}]}, {"filter": "datum.i >= 4"}], "mark": {"type": "line", "color": "#1f77b4", "strokeWidth": 1.6}, "encoding": {"y": {"field": "ma", "type": "quantitative", "title": "Price"}}},
      {"transform": [{"window": [{"op": "mean", "field": "c", "as": "ma"}], "frame": [-9, 0], "sort": [{"field": "i"}]}, {"filter": "datum.i >= 9"}], "mark": {"type": "line", "color": "#ff7f0e", "strokeWidth": 1.6}, "encoding": {"y": {"field": "ma", "type": "quantitative", "title": "Price"}}},
      {"transform": [{"window": [{"op": "mean", "field": "c", "as": "ma"}], "frame": [-19, 0], "sort": [{"field": "i"}]}, {"filter": "datum.i >= 19"}], "mark": {"type": "line", "color": "#52625b", "strokeWidth": 1.6}, "encoding": {"y": {"field": "ma", "type": "quantitative", "title": "Price"}}}
     ]},
    {"width": 866, "height": 434, "data": {"name": "kas"},
     "title": {"text": "KASUSDT 1h 28.0", "font": "DejaVu Sans", "fontSize": 20, "fontWeight": "bold", "color": "#000000", "anchor": "middle", "frame": "group", "dx": -47, "offset": 60, "baseline": "alphabetic"},
     "encoding": {"x": {"field": "i", "type": "quantitative", "scale": {"domain": [-4.04, 63.03], "nice": false, "zero": false}, "axis": {"values": [0,10,20,30,40,50,60], "labels": false, "ticks": false, "title": null, "grid": true}}},
     "layer": [
      {"mark": {"type": "rule", "color": "#222222", "strokeWidth": 1.3}, "encoding": {"y": {"field": "l", "type": "quantitative", "title": "Price", "scale": {"domain": [0.083517, 0.092188], "nice": false, "zero": false}, "axis": {"orient": "right", "values": [0.084,0.085,0.086,0.087,0.088,0.089,0.09,0.091,0.092], "format": ".3f", "grid": true}}, "y2": {"field": "h"}}},
      {"mark": {"type": "bar", "size": 8.5, "strokeWidth": 1}, "encoding": {"y": {"field": "o", "type": "quantitative", "title": "Price"}, "y2": {"field": "c"}, "color": {"condition": {"test": "datum.c >= datum.o", "value": "#19ae77"}, "value": "#f6353f"}, "stroke": {"condition": {"test": "datum.c >= datum.o", "value": "#19ae77"}, "value": "#f6353f"}}},
      {"transform": [{"window": [{"op": "mean", "field": "c", "as": "ma"}], "frame": [-4, 0], "sort": [{"field": "i"}]}, {"filter": "datum.i >= 4"}], "mark": {"type": "line", "color": "#1f77b4", "strokeWidth": 1.6}, "encoding": {"y": {"field": "ma", "type": "quantitative", "title": "Price"}}},
      {"transform": [{"window": [{"op": "mean", "field": "c", "as": "ma"}], "frame": [-9, 0], "sort": [{"field": "i"}]}, {"filter": "datum.i >= 9"}], "mark": {"type": "line", "color": "#ff7f0e", "strokeWidth": 1.6}, "encoding": {"y": {"field": "ma", "type": "quantitative", "title": "Price"}}},
      {"transform": [{"window": [{"op": "mean", "field": "c", "as": "ma"}], "frame": [-19, 0], "sort": [{"field": "i"}]}, {"filter": "datum.i >= 19"}], "mark": {"type": "line", "color": "#52625b", "strokeWidth": 1.6}, "encoding": {"y": {"field": "ma", "type": "quantitative", "title": "Price"}}}
     ]},
    {"width": 866, "height": 173, "data": {"name": "cross"},
     "mark": {"type": "bar", "size": 6, "opacity": 0.75, "clip": true},
     "encoding": {
      "x": {"field": "i", "type": "quantitative", "scale": {"domain": [-4.04, 63.03], "nice": false, "zero": false}, "axis": {"values": [0,10,20,30,40,50,60], "labelExpr": "['Aug 05, 21:00','Aug 06, 07:00','Aug 06, 17:00','Aug 07, 03:00','Aug 07, 13:00','Aug 07, 23:00',''][round(datum.value/10)]", "labelAngle": -45, "labelAlign": "center", "labelBaseline": "middle", "labelPadding": 44.5, "labelFlush": false, "labelOverlap": false, "labelBound": false, "title": null, "grid": true}},
      "y": {"field": "v", "type": "quantitative", "title": "Volume  10⁶", "scale": {"domain": [0.198, 6.633], "nice": false, "zero": false}, "axis": {"orient": "right", "values": [2,4,6], "format": "d", "grid": true}},
      "y2": {"datum": 0},
      "color": {"condition": {"test": "datum.c >= datum.o", "value": "#19ae77"}, "value": "#f6353f"}
     }},
    {"width": 866, "height": 173, "data": {"name": "kas"},
     "mark": {"type": "bar", "size": 6, "opacity": 0.75, "clip": true},
     "encoding": {
      "x": {"field": "i", "type": "quantitative", "scale": {"domain": [-4.04, 63.03], "nice": false, "zero": false}, "axis": {"values": [0,10,20,30,40,50,60], "labelExpr": "['Aug 05, 21:00','Aug 06, 07:00','Aug 06, 17:00','Aug 07, 03:00','Aug 07, 13:00','Aug 07, 23:00',''][round(datum.value/10)]", "labelAngle": -45, "labelAlign": "center", "labelBaseline": "middle", "labelPadding": 44.5, "labelFlush": false, "labelOverlap": false, "labelBound": false, "title": null, "grid": true}},
      "y": {"field": "v", "type": "quantitative", "title": "Volume  10⁶", "scale": {"domain": [0.54, 32.23], "nice": false, "zero": false}, "axis": {"orient": "right", "values": [10,20,30], "format": "d", "grid": true}},
      "y2": {"datum": 0},
      "color": {"condition": {"test": "datum.c >= datum.o", "value": "#19ae77"}, "value": "#f6353f"}
     }}
  ]
}
